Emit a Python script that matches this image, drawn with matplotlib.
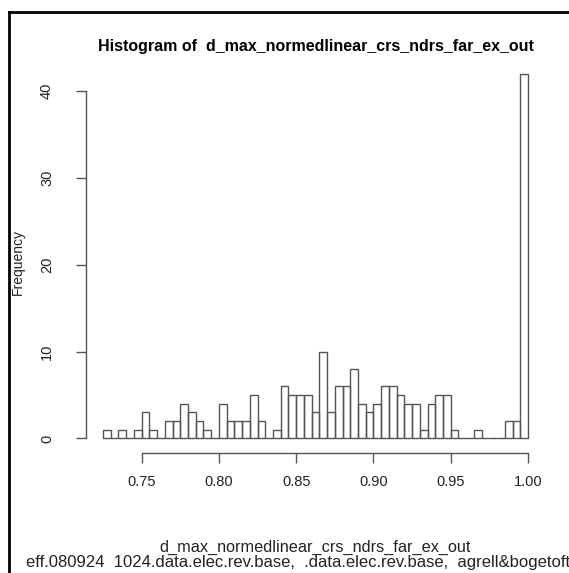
from matplotlib import pyplot as plt
from matplotlib.lines import Line2D
import numpy as np


VAR_NAME = "d_max_normedlinear_crs_ndrs_far_ex_out"
SUBTITLE = "eff.080924  1024.data.elec.rev.base,  .data.elec.rev.base,  agrell&bogetoft"

BIN_START = 0.725
BIN_WIDTH = 0.005
# counts per bin, 0.725 .. 1.000
counts = [1, 0, 1, 0, 1, 3, 1, 0, 2, 2,
          4, 3, 2, 1, 0, 4, 2, 2, 2, 5,
          2, 0, 1, 6, 5, 5, 5, 3, 10, 3,
          6, 6, 8, 4, 3, 4, 6, 6, 5, 4,
          4, 1, 4, 5, 5, 1, 0, 0, 1, 0,
          0, 0, 2, 2, 42]

x_ticks = [0.75, 0.80, 0.85, 0.90, 0.95, 1.00]
y_ticks = [0, 10, 20, 30, 40]

LINE_COLOR = "#555555"


def main():
    plt.rcParams["font.family"] = ["Liberation Sans", "DejaVu Sans"]

    W, H = 569, 573
    fig = plt.figure(figsize=(W / 100, H / 100), dpi=100)

    left, right, top, bottom = 86, 545, 59, 453
    ax = fig.add_axes([left / W, 1 - bottom / H, (right - left) / W, (bottom - top) / H])

    n = len(counts)
    edges = BIN_START + BIN_WIDTH * np.arange(n)
    ax.bar(edges, counts, width=BIN_WIDTH, align="edge", fill=False,
           edgecolor=LINE_COLOR, linewidth=1.0)

    x_end = BIN_START + BIN_WIDTH * n
    pad_x = 0.04 * (x_end - BIN_START)
    ax.set_xlim(BIN_START - pad_x, x_end + pad_x)
    pad_y = 0.04 * max(counts)
    ax.set_ylim(-pad_y, max(counts) + pad_y)

    for s in ["top", "right"]:
        ax.spines[s].set_visible(False)
    ax.spines["left"].set_bounds(y_ticks[0], y_ticks[-1])
    ax.spines["bottom"].set_bounds(x_ticks[0], x_ticks[-1])
    for s in ["left", "bottom"]:
        ax.spines[s].set_color(LINE_COLOR)
        ax.spines[s].set_linewidth(1.0)

    ax.set_xticks(x_ticks)
    ax.set_xticklabels([f"{t:.2f}" for t in x_ticks])
    ax.set_yticks(y_ticks)
    ax.set_yticklabels([str(t) for t in y_ticks], rotation=90, va="center")
    ax.tick_params(axis="both", length=7, width=1.0, color=LINE_COLOR,
                   labelsize=10.5, labelcolor="#222222")
    ax.tick_params(axis="x", pad=9)
    ax.tick_params(axis="y", pad=16)

    fig.text((left + right) / 2 / W, 1 - 47 / H, "Histogram of  " + VAR_NAME,
             ha="center", va="center", fontsize=11.5, fontweight="bold")
    fig.text((left + right) / 2 / W, 1 - 547 / H, VAR_NAME,
             ha="center", va="center", fontsize=11.7, color="#222222")
    fig.text(298 / W, 1 - 562 / H, SUBTITLE,
             ha="center", va="center", fontsize=12, color="#222222")
    fig.text(18 / W, 1 - 262 / H, "Frequency", rotation=90,
             ha="center", va="center", fontsize=10, color="#222222")

    # screenshot frame
    fig.add_artist(Line2D([9 / W, 9 / W], [0, 1 - 12 / H], transform=fig.transFigure,
                          color="black", linewidth=2))
    fig.add_artist(Line2D([9 / W, 1], [1 - 12 / H, 1 - 12 / H], transform=fig.transFigure,
                          color="black", linewidth=2))

    fig.savefig("out.png", dpi=100)


if __name__ == "__main__":
    main()
